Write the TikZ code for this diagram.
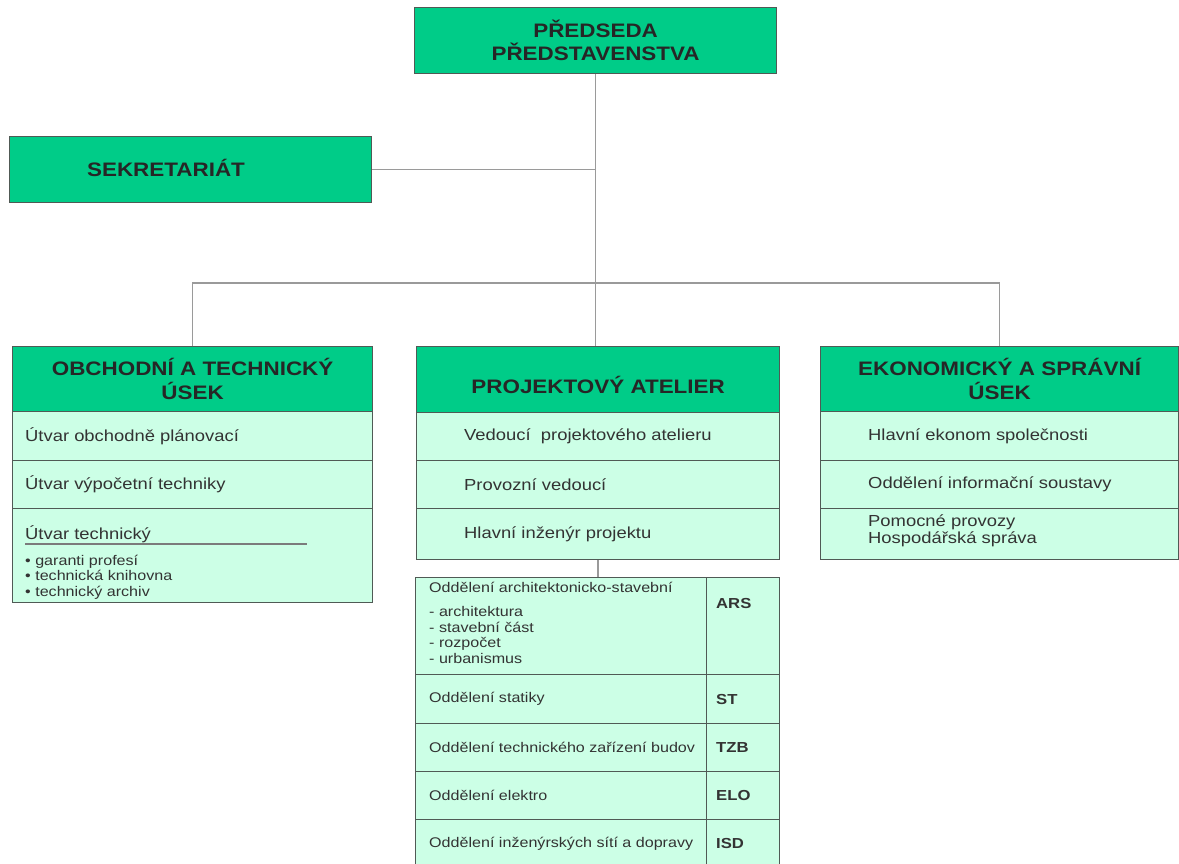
\documentclass[tikz,border=0pt]{standalone}
\usepackage{fontspec}
\setmainfont{Liberation Sans}[FakeStretch=1.15]
\definecolor{hdrg}{HTML}{00CC88}
\definecolor{cellg}{HTML}{CCFFE6}
\definecolor{bordc}{HTML}{505A55}
\definecolor{linkc}{HTML}{9A9A9A}
\tikzset{
  hdr/.style={draw=bordc, fill=hdrg, line width=1.2pt, inner sep=0pt, anchor=north west,
    align=center, text=black!85, font=\bfseries\fontsize{19.5}{24}\selectfont},
  cell/.style={draw=bordc, fill=cellg, line width=1.2pt, inner sep=0pt, anchor=north west},
  txt/.style={inner sep=0pt, anchor=west, align=left, text=black!80, font=\fontsize{16}{17}\selectfont},
  ttxt/.style={txt, font=\fontsize{14}{16.5}\selectfont},
  ktxt/.style={txt, font=\bfseries\fontsize{14.5}{16}\selectfont},
  small/.style={inner sep=0pt, align=left, text=black!80, font=\fontsize{14}{15.5}\selectfont},
  link/.style={draw=linkc, line width=1.3pt}
}
\begin{document}
\begin{tikzpicture}[x=1pt, y=-1pt]
\useasboundingbox (0,0) rectangle (1179,863);
\clip (0,0) rectangle (1179,863);

% top level
\node[hdr, minimum width=362pt, minimum height=66pt, font=\bfseries\fontsize{19.5}{23}\selectfont]
  (pres) at (414,7) {PŘEDSEDA\\PŘEDSTAVENSTVA};
\node[hdr, minimum width=362pt, minimum height=66pt] (sek) at (9,136) {};
\node[inner sep=0pt, text=black!85, font=\bfseries\fontsize{19.5}{24}\selectfont] (sekt) at (166,168) {SEKRETARIÁT};

% left division
\node[hdr, minimum width=360pt, minimum height=65pt] (ou) at (12,346) {OBCHODNÍ A TECHNICKÝ\\ÚSEK};
\node[cell, minimum width=360pt, minimum height=49pt] (ou1) at (12,411) {};
\node[cell, minimum width=360pt, minimum height=48pt] (ou2) at (12,460) {};
\node[cell, minimum width=360pt, minimum height=94pt] (ou3) at (12,508) {};
\node[txt] (ou1t) at ([xshift=13pt]ou1.west) {Útvar obchodně plánovací};
\node[txt] (ou2t) at ([xshift=13pt]ou2.west) {Útvar výpočetní techniky};
\node[txt, anchor=base west] (ou3t) at (25,539) {Útvar technický};
\coordinate (ulA) at (25,544);
\coordinate (ulB) at (307,544);
\draw[draw=linkc!80!black, line width=1.2pt] (ulA) -- (ulB);
\node[small, anchor=base west] (ou3b) at (25,596)
  {• garanti profesí\\• technická knihovna\\• technický archiv};

% middle division
\node[hdr, minimum width=363pt, minimum height=66pt, text height=28pt, text depth=0pt]
  (pa) at (416,346) {PROJEKTOVÝ ATELIER};
\node[cell, minimum width=363pt, minimum height=48pt] (pa1) at (416,412) {};
\node[cell, minimum width=363pt, minimum height=48pt] (pa2) at (416,460) {};
\node[cell, minimum width=363pt, minimum height=51pt] (pa3) at (416,508) {};
\node[txt] (pa1t) at ([xshift=48pt]pa1.west) {Vedoucí\ \ projektového atelieru};
\node[txt] (pa2t) at ([xshift=48pt]pa2.west) {Provozní vedoucí};
\node[txt] (pa3t) at ([xshift=48pt]pa3.west) {Hlavní inženýr projektu};

% right division
\node[hdr, minimum width=358pt, minimum height=65pt] (eu) at (820,346) {EKONOMICKÝ A SPRÁVNÍ\\ÚSEK};
\node[cell, minimum width=358pt, minimum height=49pt] (eu1) at (820,411) {};
\node[cell, minimum width=358pt, minimum height=48pt] (eu2) at (820,460) {};
\node[cell, minimum width=358pt, minimum height=51pt] (eu3) at (820,508) {};
\node[txt] (eu1t) at ([xshift=48pt]eu1.west) {Hlavní ekonom společnosti};
\node[txt] (eu2t) at ([xshift=48pt]eu2.west) {Oddělení informační soustavy};
\node[txt] (eu3t) at ([xshift=48pt,yshift=3pt]eu3.west) {Pomocné provozy\\Hospodářská správa};

% departments of the studio
\node[cell, minimum width=291pt, minimum height=97pt] (t1) at (415,577) {};
\node[cell, minimum width=291pt, minimum height=49pt] (t2) at (415,674) {};
\node[cell, minimum width=291pt, minimum height=48pt] (t3) at (415,723) {};
\node[cell, minimum width=291pt, minimum height=48pt] (t4) at (415,771) {};
\node[cell, minimum width=291pt, minimum height=48pt] (t5) at (415,819) {};
\node[small, anchor=base west] (t1t) at (429,663)
  {Oddělení architektonicko-stavební\\[9pt]- architektura\\- stavební část\\- rozpočet\\- urbanismus};
\node[ttxt] (t2t) at ([xshift=14pt]t2.west) {Oddělení statiky};
\node[ttxt] (t3t) at ([xshift=14pt]t3.west) {Oddělení technického zařízení budov};
\node[ttxt] (t4t) at ([xshift=14pt]t4.west) {Oddělení elektro};
\node[ttxt] (t5t) at ([xshift=14pt]t5.west) {Oddělení inženýrských sítí a dopravy};

\node[cell, minimum width=73pt, minimum height=97pt] (k1) at (706,577) {};
\node[cell, minimum width=73pt, minimum height=49pt] (k2) at (706,674) {};
\node[cell, minimum width=73pt, minimum height=48pt] (k3) at (706,723) {};
\node[cell, minimum width=73pt, minimum height=48pt] (k4) at (706,771) {};
\node[cell, minimum width=73pt, minimum height=48pt] (k5) at (706,819) {};
\node[ktxt, anchor=base west] (k1t) at (716,608) {ARS};
\node[ktxt] (k2t) at ([xshift=10pt]k2.west) {ST};
\node[ktxt] (k3t) at ([xshift=10pt]k3.west) {TZB};
\node[ktxt] (k4t) at ([xshift=10pt]k4.west) {ELO};
\node[ktxt] (k5t) at ([xshift=10pt]k5.west) {ISD};

% connectors
\coordinate (bus) at (595,283);
\draw[link] (pres.south) -- (pres.south |- pa.north);
\draw[link] (sek.east) -- (sek.east -| pres.south);
\draw[link] (ou.north) |- (bus) -| (eu.north);
\draw[link] (pa3.south) -- (pa3.south |- t1.north);
\end{tikzpicture}
\end{document}
